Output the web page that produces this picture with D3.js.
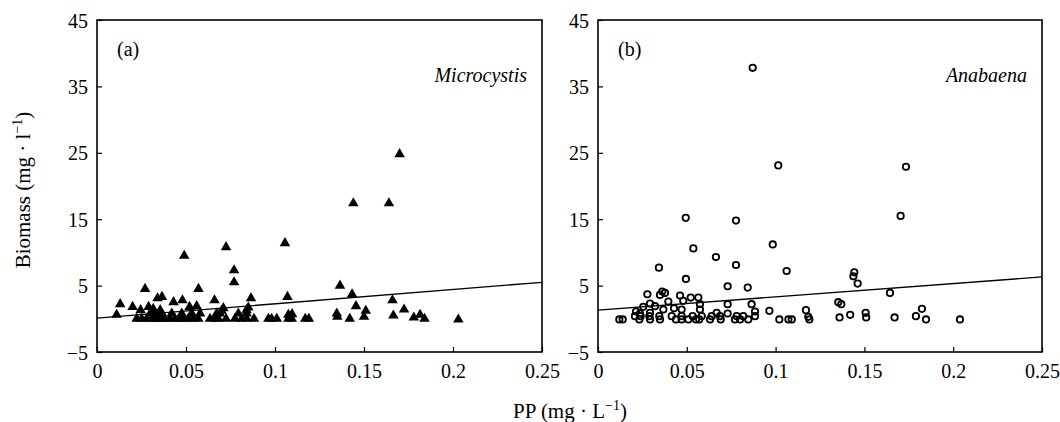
<!DOCTYPE html>
<html>
<head>
<meta charset="utf-8">
<script src="https://cdn.jsdelivr.net/npm/d3@7"></script>
<style>
  body { margin: 0; background: #fff; }
  text { font-family: 'Liberation Serif', 'Times New Roman', serif; fill: #000; }
</style>
</head>
<body>
<script>
// tick values shared by both panels
const xTicks = [0, 0.05, 0.1, 0.15, 0.2, 0.25]
const yTicks = [-5, 5, 15, 25, 35, 45]

// (a) Microcystis: [PP, biomass]
const microPoints = [
  [0.170, 24.8], [0.144, 17.4], [0.164, 17.4], [0.1056, 11.4], [0.0725, 10.8], [0.049, 9.5],
  [0.077, 7.3], [0.077, 5.5], [0.1365, 5.0], [0.027, 4.5], [0.057, 4.5], [0.1433, 3.7],
  [0.034, 3.1], [0.0365, 3.3], [0.043, 2.5], [0.048, 2.8], [0.066, 2.8], [0.0865, 3.1],
  [0.107, 3.3], [0.166, 2.8], [0.013, 2.2], [0.020, 1.8], [0.0245, 1.3], [0.029, 1.8],
  [0.0316, 1.5], [0.0355, 1.3], [0.052, 1.8], [0.056, 1.9], [0.071, 1.6], [0.084, 1.3],
  [0.085, 1.7], [0.070, 1.2], [0.1455, 1.9], [0.151, 1.2], [0.1725, 1.4], [0.011, 0.6],
  [0.0298, 0.8], [0.0326, 0.8], [0.0363, 0.8], [0.042, 0.8], [0.0476, 0.8], [0.0532, 0.8],
  [0.0579, 0.8], [0.0672, 0.8], [0.069, 0.8], [0.0794, 0.8], [0.0841, 0.8],
  [0.1075, 0.6], [0.1096, 0.7], [0.1347, 0.8], [0.135, 0.3], [0.150, 0.3], [0.1665, 0.5], [0.1815, 0.6],
  [0.0223, 0], [0.0251, 0], [0.0279, 0], [0.0307, 0], [0.0326, 0], [0.0345, 0], [0.0363, 0],
  [0.0382, 0], [0.041, 0], [0.0438, 0], [0.0466, 0], [0.0485, 0], [0.0513, 0], [0.0541, 0],
  [0.0569, 0], [0.0635, 0], [0.0663, 0], [0.0682, 0], [0.0725, 0], [0.0775, 0], [0.0813, 0],
  [0.0841, 0], [0.0882, 0], [0.0963, 0], [0.0981, 0], [0.101, 0], [0.1075, 0], [0.1094, 0],
  [0.117, 0], [0.119, 0], [0.142, 0], [0.178, 0.2], [0.184, 0], [0.203, -0.1]
]
// fitted line ends for (a)
const microFit = [[0, 0.1], [0.25, 5.5]]

// (b) Anabaena: [PP, biomass]
const anaPoints = [
  [0.0871, 37.8], [0.1015, 23.1], [0.1734, 22.9], [0.1704, 15.5], [0.0494, 15.2], [0.0777, 14.8],
  [0.0984, 11.2], [0.0537, 10.6], [0.0664, 9.3], [0.0777, 8.1], [0.0343, 7.7], [0.1062, 7.2],
  [0.1443, 7.0], [0.1438, 6.4], [0.0495, 6.0], [0.1462, 5.3], [0.073, 4.9], [0.0843, 4.7],
  [0.1644, 3.9], [0.0278, 3.7], [0.0349, 3.6], [0.0362, 4.1], [0.0377, 3.9], [0.0462, 3.5],
  [0.0522, 3.2], [0.0565, 3.2], [0.1353, 2.5], [0.137, 2.2], [0.0293, 2.3], [0.0396, 2.6],
  [0.048, 2.7], [0.0574, 2.2], [0.073, 2.2], [0.0865, 2.2], [0.0965, 1.2], [0.0255, 1.8],
  [0.0321, 1.9], [0.0368, 1.4], [0.0428, 1.6], [0.0471, 1.4], [0.0214, 1.1], [0.0236, 0.8],
  [0.0293, 0.9], [0.0574, 1.4], [0.0668, 0.9], [0.073, 0.8], [0.0884, 1.1], [0.1171, 1.3],
  [0.1824, 1.5],
  [0.0208, 0.4], [0.024, 0.4], [0.0289, 0.4], [0.0345, 0.4], [0.0415, 0.4], [0.0471, 0.4],
  [0.0533, 0.4], [0.0584, 0.4], [0.064, 0.4], [0.0687, 0.4], [0.0781, 0.4], [0.0818, 0.4],
  [0.0884, 0.4], [0.1184, 0.3], [0.142, 0.6], [0.1507, 0.9], [0.179, 0.4],
  [0.012, -0.1], [0.0139, -0.1], [0.0233, -0.1], [0.0293, -0.1], [0.0349, -0.1], [0.0439, -0.1],
  [0.0471, -0.1], [0.0509, -0.1], [0.0552, -0.1], [0.057, -0.1], [0.0631, -0.1], [0.0691, -0.1],
  [0.0771, -0.1], [0.08, -0.1], [0.0846, -0.1], [0.1021, -0.1], [0.1072, -0.1], [0.1091, -0.1],
  [0.119, -0.1], [0.136, 0.2], [0.151, 0.2], [0.167, 0.2], [0.1847, -0.1], [0.2038, -0.1]
]
const anaFit = [[0, 1.3], [0.25, 6.3]]

const svg = d3.select('body').append('svg')
    .attr('width', 1060)
    .attr('height', 422)

const plotTop = 20, plotBottom = 352

function panel(left, right, points, fit, marker, tag, name) {
    const x = d3.scaleLinear().domain([0, 0.25]).range([left, right])
    const y = d3.scaleLinear().domain([-5, 45]).range([plotBottom, plotTop])
    const g = svg.append('g')

    // frame
    g.append('rect')
        .attr('x', left).attr('y', plotTop)
        .attr('width', right - left).attr('height', plotBottom - plotTop)
        .attr('fill', 'none').attr('stroke', '#000').attr('stroke-width', 1.6)

    const xAxis = g.append('g')
        .attr('transform', `translate(0, ${plotBottom})`)
        .call(d3.axisBottom(x).tickValues(xTicks).tickSize(-5).tickPadding(12)
            .tickFormat(d => d === 0 ? '0' : d3.format('~g')(d)))
    const yAxis = g.append('g')
        .attr('transform', `translate(${left}, 0)`)
        .call(d3.axisLeft(y).tickValues(yTicks).tickSize(-5).tickPadding(9)
            .tickFormat(d => d < 0 ? '\u2212' + Math.abs(d) : d))
    ;[xAxis, yAxis].forEach(a => {
        a.select('.domain').remove()
        a.selectAll('line').attr('stroke', '#000').attr('stroke-width', 1.2)
        a.selectAll('text').style('font-size', '20px')
            .style('font-family', "'Liberation Serif', 'Times New Roman', serif")
    })
    yAxis.selectAll('text').attr('dy', '0.35em')

    g.append('line')
        .attr('x1', x(fit[0][0])).attr('y1', y(fit[0][1]))
        .attr('x2', x(fit[1][0])).attr('y2', y(fit[1][1]))
        .attr('stroke', '#000').attr('stroke-width', 1.3)

    if (marker === 'triangle') {
        g.selectAll('.pt')
            .data(points)
            .enter().append('path')
            .attr('class', 'pt')
            .attr('d', d3.symbol().type(d3.symbolTriangle).size(48))
            .attr('transform', d => `translate(${x(d[0])}, ${y(d[1])})`)
            .attr('fill', '#000')
    } else {
        g.selectAll('.pt')
            .data(points)
            .enter().append('circle')
            .attr('class', 'pt')
            .attr('cx', d => x(d[0]))
            .attr('cy', d => y(d[1]))
            .attr('r', 3.2)
            .attr('fill', 'none')
            .attr('stroke', '#000')
            .attr('stroke-width', 1.8)
    }

    g.append('text')
        .attr('x', left + 20).attr('y', 56)
        .style('font-size', '20px')
        .text(tag)
    g.append('text')
        .attr('x', right - 15).attr('y', 82)
        .attr('text-anchor', 'end')
        .style('font-size', '20px')
        .style('font-style', 'italic')
        .text(name)
}

panel(97, 542, microPoints, microFit, 'triangle', '(a)', 'Microcystis')
panel(598, 1042, anaPoints, anaFit, 'circle', '(b)', 'Anabaena')

// axis titles
const yTitle = svg.append('text')
    .attr('transform', 'translate(30, 190) rotate(-90)')
    .attr('text-anchor', 'middle')
    .style('font-size', '21px')
yTitle.append('tspan').text('Biomass (mg \u00b7 l')
yTitle.append('tspan').attr('dy', -8).style('font-size', '14px').text('\u22121')
yTitle.append('tspan').attr('dy', 8).text(')')

const xTitle = svg.append('text')
    .attr('x', 570).attr('y', 418)
    .attr('text-anchor', 'middle')
    .style('font-size', '21px')
xTitle.append('tspan').text('PP (mg \u00b7 L')
xTitle.append('tspan').attr('dy', -8).style('font-size', '14px').text('\u22121')
xTitle.append('tspan').attr('dy', 8).text(')')
</script>
</body>
</html>
